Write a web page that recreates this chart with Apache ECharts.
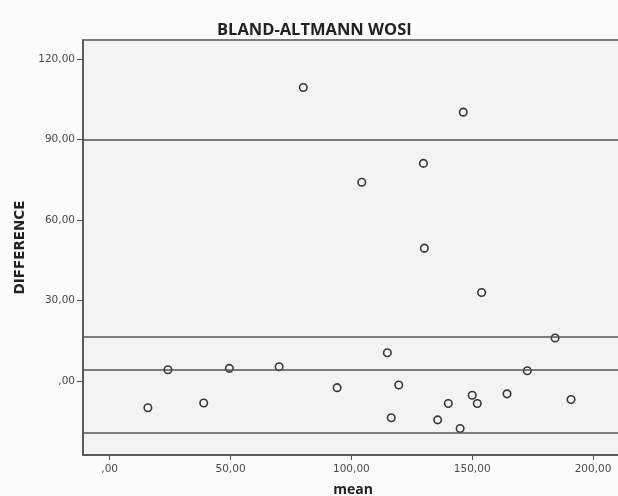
<!DOCTYPE html>
<html>
<head>
<meta charset="utf-8">
<style>
  html, body { margin: 0; padding: 0; background: #fbfbfb; }
  #chart { width: 618px; height: 496px; }
</style>
<script src="https://cdn.jsdelivr.net/npm/echarts@6/dist/echarts.min.js"></script>
</head>
<body>
<div id="chart"></div>
<script>
// mean of the two methods (x) and their difference (y)
const meanVals = [15.8, 24.1, 38.9, 49.5, 70.1, 80.1, 94.1, 104.3, 114.9, 116.5, 119.6, 129.8,
  130.2, 135.7, 140.1, 145.0, 146.3, 150.0, 152.1, 153.9, 164.4, 172.8, 184.3, 190.9]
const diffVals = [-10.0, 4.2, -8.2, 4.7, 5.3, 109.4, -2.5, 74.1, 10.5, -13.7, -1.5, 81.1,
  49.5, -14.5, -8.4, -17.7, 100.2, -5.3, -8.4, 33.0, -4.8, 3.8, 16.0, -6.9]
// horizontal reference lines
const refLines = [89.8, 16.4, 4.2, -19.2]
const xTicks = [0, 50, 100, 150, 200]
const yTicks = [0, 30, 60, 90, 120]

const fmt = v => v === 0 ? ',00' : v.toFixed(2).replace('.', ',')
const lineCol = '#555050'
const font = '"Open Sans", sans-serif'
const tickFont = '"DejaVu Sans", sans-serif'

const chart = echarts.init(document.getElementById('chart'))
chart.setOption({
  backgroundColor: '#fbfbfb',
  animation: false,
  title: {
    text: 'BLAND-ALTMANN WOSI',
    left: 212,
    top: 17,
    textStyle: { fontFamily: font, fontSize: 16.5, fontWeight: 'bold', color: '#222' }
  },
  grid: {
    left: 83,
    right: -5,
    top: 40,
    bottom: 41,
    outerBoundsMode: 'none',
    show: true,
    backgroundColor: '#f3f3f3',
    borderColor: lineCol,
    borderWidth: 1.5
  },
  xAxis: {
    type: 'value',
    min: -11.05,
    max: 212.4,
    name: 'mean',
    nameLocation: 'middle',
    nameGap: 28,
    nameTextStyle: { fontFamily: font, fontSize: 14, fontWeight: 'bold', color: '#222' },
    splitLine: { show: false },
    axisLine: { show: true, onZero: false, lineStyle: { color: lineCol, width: 1.5 } },
    axisTick: { show: true, length: 5, customValues: xTicks, lineStyle: { color: lineCol } },
    axisLabel: { customValues: xTicks, formatter: fmt, margin: 9, fontFamily: tickFont, fontSize: 10.5, color: '#4a4a4a' }
  },
  yAxis: {
    type: 'value',
    min: -27.6,
    max: 127.1,
    name: 'DIFFERENCE',
    nameLocation: 'middle',
    nameGap: 55,
    nameTextStyle: { fontFamily: tickFont, fontSize: 13.5, fontWeight: 'bold', color: '#222' },
    splitLine: { show: false },
    axisLine: { show: true, onZero: false, lineStyle: { color: lineCol, width: 1.5 } },
    axisTick: { show: true, length: 6, customValues: yTicks, lineStyle: { color: lineCol } },
    axisLabel: { customValues: yTicks, formatter: fmt, margin: 8, fontFamily: tickFont, fontSize: 10.5, color: '#4a4a4a' }
  },
  series: [{
    type: 'scatter',
    data: meanVals.map((m, i) => [m, diffVals[i]]),
    symbol: 'circle',
    symbolSize: 7.5,
    itemStyle: { color: '#f7f7f7', borderColor: '#3a3434', borderWidth: 1.6, opacity: 1 },
    markLine: {
      silent: true,
      symbol: 'none',
      label: { show: false },
      lineStyle: { color: lineCol, width: 1.5, type: 'solid' },
      data: refLines.map(v => ({ yAxis: v }))
    }
  }]
})
</script>
</body>
</html>
